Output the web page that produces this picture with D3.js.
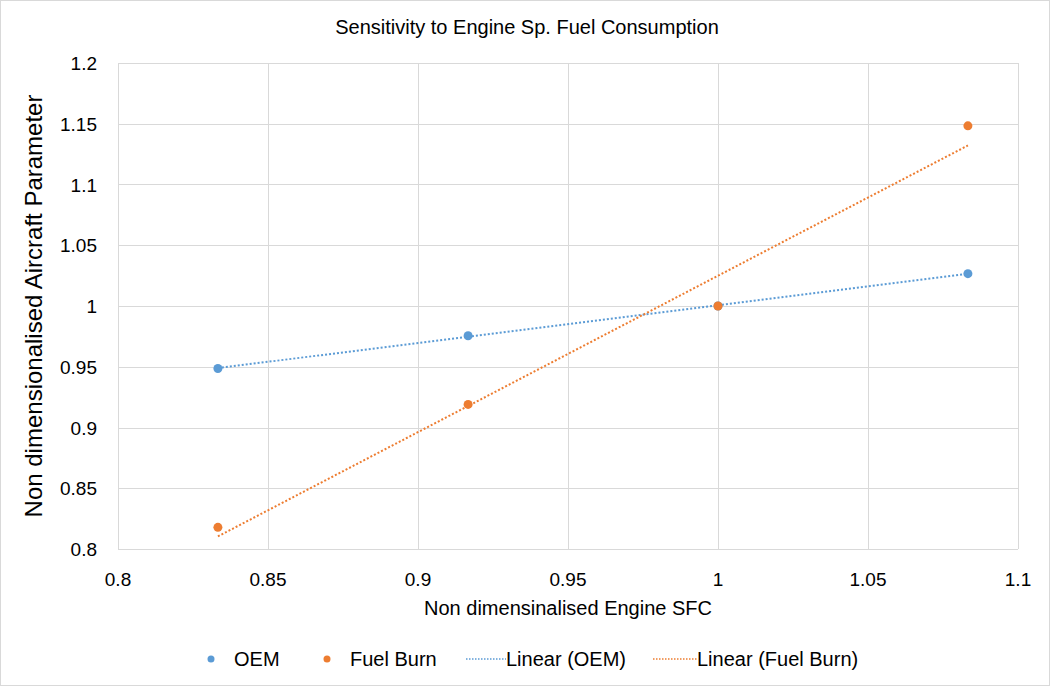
<!DOCTYPE html>
<html>
<head>
<meta charset="utf-8">
<script src="https://cdn.jsdelivr.net/npm/d3@7"></script>
<style>
  body { margin: 0; background: #fff; }
  text { font-family: "Liberation Sans", Arial, sans-serif; fill: #000; }
</style>
</head>
<body>
<div id="chart"></div>
<script>
const width = 1050;
const height = 686;
const margin = { top: 63, right: 32, bottom: 137, left: 118 };

// data
const sfc = [0.8333, 0.9167, 1.0, 1.0833];
const oem = [0.9486, 0.9755, 1.0, 1.0266];
const fuelBurn = [0.8178, 0.919, 1.0, 1.1483];
const xTicks = [0.8, 0.85, 0.9, 0.95, 1, 1.05, 1.1];
const yTicks = [0.8, 0.85, 0.9, 0.95, 1, 1.05, 1.1, 1.15, 1.2];

const blue = "#5b9bd5";
const orange = "#ed7d31";

var svg = d3.select("#chart").append("svg")
    .attr("width", width)
    .attr("height", height);

// chart border
svg.append("rect")
    .attr("x", 0.5).attr("y", 0.5)
    .attr("width", width - 1).attr("height", height - 1)
    .attr("fill", "#fff")
    .attr("stroke", "#d9d9d9");

var x = d3.scaleLinear().domain([0.8, 1.1]).range([margin.left, width - margin.right]);
var y = d3.scaleLinear().domain([0.8, 1.2]).range([height - margin.bottom, margin.top]);

// gridlines
svg.append("g").selectAll("line.h")
    .data(yTicks)
    .enter().append("line")
    .attr("x1", x(0.8)).attr("x2", x(1.1))
    .attr("y1", d => Math.round(y(d)) + 0.5).attr("y2", d => Math.round(y(d)) + 0.5)
    .attr("stroke", "#d9d9d9");

svg.append("g").selectAll("line.v")
    .data(xTicks)
    .enter().append("line")
    .attr("y1", y(0.8)).attr("y2", y(1.2))
    .attr("x1", d => Math.round(x(d)) + 0.5).attr("x2", d => Math.round(x(d)) + 0.5)
    .attr("stroke", "#d9d9d9");

// tick labels
svg.append("g").selectAll("text")
    .data(yTicks)
    .enter().append("text")
    .attr("x", x(0.8) - 21)
    .attr("y", d => y(d) + 7)
    .attr("text-anchor", "end")
    .style("font-size", "19px")
    .text(d => d3.format("")(d));

svg.append("g").selectAll("text")
    .data(xTicks)
    .enter().append("text")
    .attr("x", d => x(d))
    .attr("y", y(0.8) + 37)
    .attr("text-anchor", "middle")
    .style("font-size", "19px")
    .text(d => d3.format("")(d));

// linear fit (least squares) for each series
function linearFit(xs, ys) {
    var mx = d3.mean(xs), my = d3.mean(ys);
    var sxy = d3.sum(xs, (v, i) => (v - mx) * (ys[i] - my));
    var sxx = d3.sum(xs, v => (v - mx) * (v - mx));
    var slope = sxy / sxx;
    return v => my + slope * (v - mx);
}

var series = [
    { name: "OEM", values: oem, color: blue },
    { name: "Fuel Burn", values: fuelBurn, color: orange }
];

var line = d3.line().x(d => x(d[0])).y(d => y(d[1]));

series.forEach(function(s) {
    var f = linearFit(sfc, s.values);
    var ends = d3.extent(sfc);
    svg.append("path")
        .datum(ends.map(v => [v, f(v)]))
        .attr("d", line)
        .attr("fill", "none")
        .attr("stroke", s.color)
        .attr("stroke-width", 2)
        .attr("stroke-dasharray", "2,2");
});

series.forEach(function(s) {
    svg.append("g").selectAll("circle")
        .data(sfc.map((v, i) => [v, s.values[i]]))
        .enter().append("circle")
        .attr("cx", d => x(d[0]))
        .attr("cy", d => y(d[1]))
        .attr("r", 4.5)
        .attr("fill", s.color);
});

// title
svg.append("text")
    .attr("x", 527)
    .attr("y", 34)
    .attr("text-anchor", "middle")
    .style("font-size", "20px")
    .text("Sensitivity to Engine Sp. Fuel Consumption");

// axis titles
svg.append("text")
    .attr("x", 568)
    .attr("y", 615)
    .attr("text-anchor", "middle")
    .style("font-size", "20px")
    .text("Non dimensinalised Engine SFC");

svg.append("text")
    .attr("transform", "translate(42," + ((y(0.8) + y(1.2)) / 2) + ") rotate(-90)")
    .attr("text-anchor", "middle")
    .style("font-size", "24px")
    .text("Non dimensionalised Aircraft Parameter");

// legend
var ly = 659;
var legend = svg.append("g");
legend.append("circle").attr("cx", 211).attr("cy", ly).attr("r", 3.5).attr("fill", blue);
legend.append("text").attr("x", 234).attr("y", ly + 7).style("font-size", "20px").text("OEM");
legend.append("circle").attr("cx", 327).attr("cy", ly).attr("r", 3.5).attr("fill", orange);
legend.append("text").attr("x", 350).attr("y", ly + 7).style("font-size", "20px").text("Fuel Burn");
legend.append("line").attr("x1", 466).attr("x2", 506).attr("y1", ly).attr("y2", ly)
    .attr("stroke", blue).attr("stroke-width", 1.5).attr("stroke-dasharray", "1.5,1.5");
legend.append("text").attr("x", 506).attr("y", ly + 7).style("font-size", "20px").text("Linear (OEM)");
legend.append("line").attr("x1", 653).attr("x2", 697).attr("y1", ly).attr("y2", ly)
    .attr("stroke", orange).attr("stroke-width", 1.5).attr("stroke-dasharray", "1.5,1.5");
legend.append("text").attr("x", 697).attr("y", ly + 7).style("font-size", "20px").text("Linear (Fuel Burn)");
</script>
</body>
</html>
